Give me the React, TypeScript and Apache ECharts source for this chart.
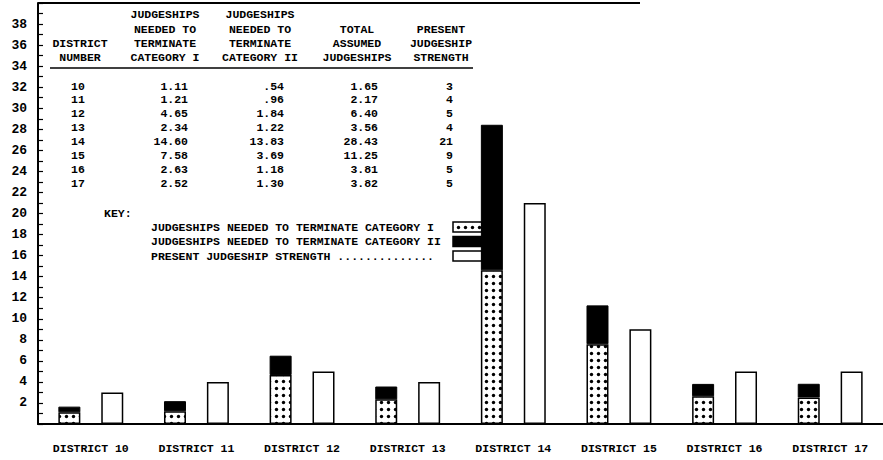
import React, { useEffect, useRef } from 'react';
import * as echarts from 'echarts';

const districts = ['DISTRICT 10', 'DISTRICT 11', 'DISTRICT 12', 'DISTRICT 13', 'DISTRICT 14', 'DISTRICT 15', 'DISTRICT 16', 'DISTRICT 17'];
const districtNumbers = ['10', '11', '12', '13', '14', '15', '16', '17'];
const categoryI = [1.11, 1.21, 4.65, 2.34, 14.6, 7.58, 2.63, 2.52];
const categoryII = [0.54, 0.96, 1.84, 1.22, 13.83, 3.69, 1.18, 1.3];
const totalAssumed = [1.65, 2.17, 6.4, 3.56, 28.43, 11.25, 3.81, 3.82];
const presentStrength = [3, 4, 5, 4, 21, 9, 5, 5];
const legendLabels = [
  'JUDGESHIPS NEEDED TO TERMINATE CATEGORY I',
  'JUDGESHIPS NEEDED TO TERMINATE CATEGORY II',
  'PRESENT JUDGESHIP STRENGTH ..............',
];
const headerCols = [
  { cx: 80, lines: ['DISTRICT', 'NUMBER'] },
  { cx: 165, lines: ['JUDGESHIPS', 'NEEDED TO', 'TERMINATE', 'CATEGORY I'] },
  { cx: 260, lines: ['JUDGESHIPS', 'NEEDED TO', 'TERMINATE', 'CATEGORY II'] },
  { cx: 357, lines: ['TOTAL', 'ASSUMED', 'JUDGESHIPS'] },
  { cx: 441, lines: ['PRESENT', 'JUDGESHIP', 'STRENGTH'] },
];

const FONT_FAMILY = '"Liberation Mono", "DejaVu Sans Mono", monospace';

function fmt(v: number): string {
  const s = v.toFixed(2);
  return v < 1 ? s.slice(1) : s;
}

function dotCanvas(): HTMLCanvasElement {
  const c = document.createElement('canvas');
  c.width = 7;
  c.height = 7;
  const ctx = c.getContext('2d')!;
  ctx.fillStyle = '#fff';
  ctx.fillRect(0, 0, 7, 7);
  ctx.fillStyle = '#000';
  ctx.beginPath();
  ctx.arc(3.5, 3.5, 1.7, 0, Math.PI * 2);
  ctx.fill();
  return c;
}

function txt(text: string, x: number, y: number, align: string = 'left', size: number = 11.5) {
  return {
    type: 'text',
    x,
    y,
    silent: true,
    style: {
      text,
      align,
      verticalAlign: 'middle',
      textAlign: align,
      textVerticalAlign: 'middle',
      fontFamily: FONT_FAMILY,
      fontWeight: 'bold',
      fontSize: size,
      fill: '#000',
    },
  };
}

export default function App() {
  const ref = useRef<HTMLDivElement>(null);

  useEffect(() => {
    if (!ref.current) return;
    const chart = echarts.init(ref.current, null, { renderer: 'svg' });
    const canvas = dotCanvas();
    const dots: any = { image: canvas, repeat: 'repeat', imageWidth: 7, imageHeight: 7 };

    const graphics: any[] = [];
    // top border
    graphics.push({ type: 'line', shape: { x1: 38, y1: 3, x2: 640, y2: 3 }, style: { stroke: '#000', lineWidth: 2 } });
    // header
    const rowY4 = [14, 29, 43, 57];
    headerCols.forEach((col) => {
      const offset = 4 - col.lines.length;
      col.lines.forEach((line, i) => {
        graphics.push(txt(line, col.cx, rowY4[i + offset], 'center'));
      });
    });
    graphics.push({ type: 'line', shape: { x1: 50, y1: 68, x2: 473, y2: 68 }, style: { stroke: '#000', lineWidth: 1.5 } });
    // rows
    districtNumbers.forEach((d, i) => {
      const y = 86 + i * 13.9;
      graphics.push(txt(d, 78, y, 'center'));
      graphics.push(txt(fmt(categoryI[i]), 188, y, 'right'));
      graphics.push(txt(fmt(categoryII[i]), 284, y, 'right'));
      graphics.push(txt(fmt(totalAssumed[i]), 378, y, 'right'));
      graphics.push(txt(String(presentStrength[i]), 453, y, 'right'));
    });
    // key
    graphics.push(txt('KEY:', 104, 213, 'left'));
    const fills: any[] = [dots, '#000', '#fff'];
    legendLabels.forEach((l, i) => {
      const y = 227 + i * 14.5;
      graphics.push(txt(l, 151, y, 'left'));
      graphics.push({
        type: 'rect',
        shape: { x: 453, y: y - 5, width: 29, height: 10 },
        style: { fill: fills[i], stroke: '#000', lineWidth: 1.5 },
      });
    });

    chart.setOption({
      animation: false,
      backgroundColor: '#fff',
      textStyle: { fontFamily: FONT_FAMILY, fontWeight: 'bold', color: '#000' },
      grid: { left: 38, right: -5, top: 3, bottom: 36, containLabel: false },
      xAxis: {
        type: 'category',
        data: districts,
        axisLine: { show: true, lineStyle: { color: '#000', width: 2 } },
        axisTick: { show: false },
        axisLabel: {
          interval: 0,
          margin: 18,
          color: '#000',
          fontFamily: FONT_FAMILY,
          fontWeight: 'bold',
          fontSize: 11.5,
        },
      },
      yAxis: {
        type: 'value',
        min: 0,
        max: 40,
        interval: 1,
        axisLine: { show: true, lineStyle: { color: '#000', width: 2 } },
        axisTick: { show: true, inside: true, length: 5, lineStyle: { color: '#000', width: 1.2 } },
        splitLine: { show: false },
        axisLabel: {
          margin: 11,
          color: '#000',
          fontFamily: FONT_FAMILY,
          fontWeight: 'bold',
          fontSize: 13,
          formatter: (v: number) => (v > 0 && v < 40 && v % 2 === 0 ? String(v) : ''),
        },
      },
      series: [
        {
          type: 'bar',
          name: 'Category I',
          stack: 'needed',
          data: categoryI,
          barWidth: 22,
          barGap: '95%',
          itemStyle: { color: dots, borderColor: '#000', borderWidth: 1.5 },
        },
        {
          type: 'bar',
          name: 'Category II',
          stack: 'needed',
          data: categoryII,
          barWidth: 22,
          barGap: '95%',
          itemStyle: { color: '#000', borderColor: '#000', borderWidth: 1 },
        },
        {
          type: 'bar',
          name: 'Present',
          data: presentStrength,
          barWidth: 22,
          barGap: '95%',
          itemStyle: { color: '#fff', borderColor: '#000', borderWidth: 1.5 },
        },
      ],
      graphic: graphics,
    });
    return () => chart.dispose();
  }, []);

  return <div ref={ref} style={{ width: 883, height: 460, position: 'absolute', left: 0, top: 0 }} />;
}
